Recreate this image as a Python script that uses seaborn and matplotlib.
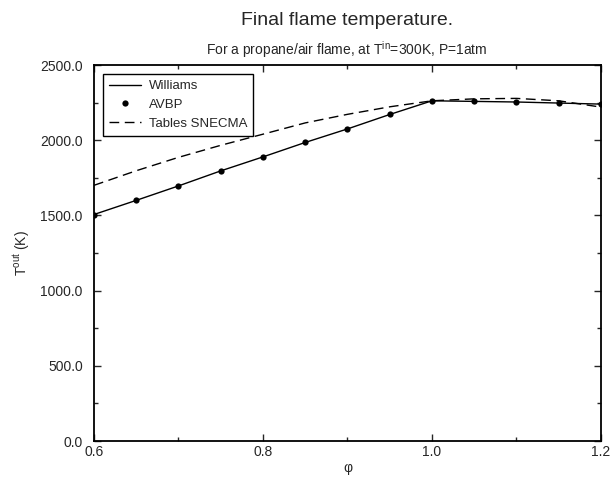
import matplotlib
matplotlib.use("Agg")
import matplotlib.pyplot as plt
from matplotlib.ticker import MultipleLocator, FormatStrFormatter
import seaborn as sns
import pandas as pd

phi = [0.6, 0.65, 0.7, 0.75, 0.8, 0.85, 0.9, 0.95, 1.0, 1.05, 1.1, 1.15, 1.2]
williams = [1506, 1600, 1696, 1796, 1889, 1985, 2075, 2171, 2262, 2258, 2254, 2247, 2240]
avbp = [1506, 1600, 1696, 1796, 1889, 1985, 2075, 2171, 2262, 2258, 2254, 2247, 2240]
snecma = [1700, 1797, 1886, 1966, 2040, 2115, 2172, 2222, 2262, 2275, 2278, 2262, 2220]

sns.set_style("ticks")
plt.rcParams['font.family'] = ['Liberation Sans', 'DejaVu Sans']
plt.rcParams['mathtext.fontset'] = 'custom'
plt.rcParams['mathtext.rm'] = 'Liberation Sans'
plt.rcParams['mathtext.it'] = 'Liberation Sans:italic'

df = pd.DataFrame({"phi": phi, "Williams": williams, "AVBP": avbp, "Tables SNECMA": snecma})

fig = plt.figure(figsize=(6.13, 4.79), dpi=100)
ax = fig.add_axes([0.1533, 0.0793, 0.8271, 0.785])

sns.lineplot(data=df, x="phi", y="Williams", ax=ax, color="black", lw=1.0, label="Williams")
sns.lineplot(data=df, x="phi", y="AVBP", ax=ax, color="black", lw=0, marker="o",
             markersize=4.5, markeredgewidth=0, label="AVBP")
sns.lineplot(data=df, x="phi", y="Tables SNECMA", ax=ax, color="black", lw=1.0,
             label="Tables SNECMA")
ax.lines[-1].set_dashes([7, 4])

ax.set_xlim(0.6, 1.2)
ax.set_ylim(0, 2500)
ax.xaxis.set_major_locator(MultipleLocator(0.2))
ax.xaxis.set_minor_locator(MultipleLocator(0.1))
ax.yaxis.set_major_locator(MultipleLocator(500))
ax.yaxis.set_minor_locator(MultipleLocator(250))
ax.xaxis.set_major_formatter(FormatStrFormatter('%.1f'))
ax.yaxis.set_major_formatter(FormatStrFormatter('%.1f'))
ax.tick_params(which='both', direction='in', top=True, right=True, labelsize=10, width=1)
ax.tick_params(which='major', length=5)
ax.tick_params(which='minor', length=3)
ax.tick_params(axis='y', which='major', pad=8)
ax.tick_params(axis='x', which='major', pad=3)
for s in ax.spines.values():
    s.set_linewidth(1.3)
    s.set_color('black')

ax.set_xlabel("φ", fontsize=10, labelpad=1)
ax.set_ylabel("T$^{\\mathrm{out}}$ (K)", fontsize=10, labelpad=6)

leg = ax.legend(loc="upper left", bbox_to_anchor=(0.018, 0.976), borderaxespad=0,
                fontsize=9.5, frameon=True, fancybox=False, borderpad=0.45,
                handlelength=2.4, labelspacing=0.5, handletextpad=0.6)
leg.get_frame().set_edgecolor('black')
leg.get_frame().set_linewidth(1.0)
leg.get_frame().set_alpha(1)

fig.text(0.566, 0.958, "Final flame temperature.", ha='center', va='center', fontsize=14)
fig.text(0.566, 0.896, "For a propane/air flame, at T$^{\\mathrm{in}}$=300K, P=1atm",
         ha='center', va='center', fontsize=10)

fig.savefig("out.png", dpi=100)
